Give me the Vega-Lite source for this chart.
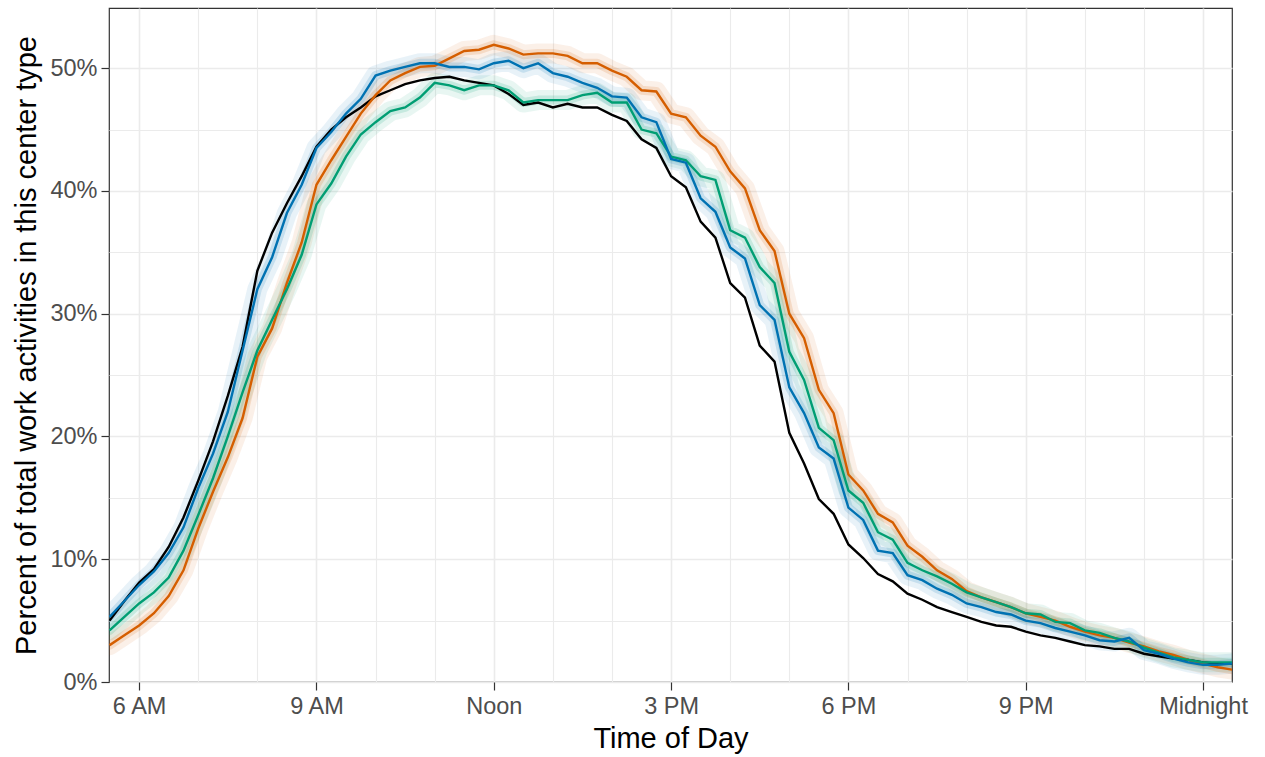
{
  "$schema": "https://vega.github.io/schema/vega-lite/v6.json",
  "width": 1123,
  "height": 674,
  "autosize": {"type": "none"},
  "padding": {"left": 109, "top": 8, "right": 33, "bottom": 75},
  "background": "#FFFFFF",
  "config": {
    "view": {"stroke": "#333333", "strokeWidth": 1.2},
    "font": "Liberation Sans"
  },
  "datasets": {
    "rows": [
{"t":5.5,"s":"k","v":5.0},{"t":5.75,"s":"k","v":6.6},{"t":6,"s":"k","v":8.1},{"t":6.25,"s":"k","v":9.2},{"t":6.5,"s":"k","v":11.0},{"t":6.75,"s":"k","v":13.4},{"t":7,"s":"k","v":16.4},{"t":7.25,"s":"k","v":19.6},{"t":7.5,"s":"k","v":23.3},{"t":7.75,"s":"k","v":27.3},{"t":8,"s":"k","v":33.5},{"t":8.25,"s":"k","v":36.6},{"t":8.5,"s":"k","v":39.0},{"t":8.75,"s":"k","v":41.2},{"t":9,"s":"k","v":43.6},{"t":9.25,"s":"k","v":45.0},{"t":9.5,"s":"k","v":46.0},{"t":9.75,"s":"k","v":46.8},{"t":10,"s":"k","v":47.7},{"t":10.25,"s":"k","v":48.2},{"t":10.5,"s":"k","v":48.7},{"t":10.75,"s":"k","v":49.0},{"t":11,"s":"k","v":49.2},{"t":11.25,"s":"k","v":49.3},{"t":11.5,"s":"k","v":49.0},{"t":11.75,"s":"k","v":48.8},{"t":12,"s":"k","v":48.6},{"t":12.25,"s":"k","v":47.9},{"t":12.5,"s":"k","v":47.0},{"t":12.75,"s":"k","v":47.2},{"t":13,"s":"k","v":46.8},{"t":13.25,"s":"k","v":47.1},{"t":13.5,"s":"k","v":46.8},{"t":13.75,"s":"k","v":46.8},{"t":14,"s":"k","v":46.2},{"t":14.25,"s":"k","v":45.7},{"t":14.5,"s":"k","v":44.2},{"t":14.75,"s":"k","v":43.5},{"t":15,"s":"k","v":41.2},{"t":15.25,"s":"k","v":40.3},{"t":15.5,"s":"k","v":37.5},{"t":15.75,"s":"k","v":36.2},{"t":16,"s":"k","v":32.5},{"t":16.25,"s":"k","v":31.3},{"t":16.5,"s":"k","v":27.4},{"t":16.75,"s":"k","v":26.1},{"t":17,"s":"k","v":20.3},{"t":17.25,"s":"k","v":17.8},{"t":17.5,"s":"k","v":14.9},{"t":17.75,"s":"k","v":13.7},{"t":18,"s":"k","v":11.2},{"t":18.25,"s":"k","v":10.1},{"t":18.5,"s":"k","v":8.8},{"t":18.75,"s":"k","v":8.2},{"t":19,"s":"k","v":7.2},{"t":19.25,"s":"k","v":6.7},{"t":19.5,"s":"k","v":6.1},{"t":19.75,"s":"k","v":5.7},{"t":20,"s":"k","v":5.3},{"t":20.25,"s":"k","v":4.9},{"t":20.5,"s":"k","v":4.6},{"t":20.75,"s":"k","v":4.5},{"t":21,"s":"k","v":4.1},{"t":21.25,"s":"k","v":3.8},{"t":21.5,"s":"k","v":3.6},{"t":21.75,"s":"k","v":3.3},{"t":22,"s":"k","v":3.0},{"t":22.25,"s":"k","v":2.9},{"t":22.5,"s":"k","v":2.7},{"t":22.75,"s":"k","v":2.7},{"t":23,"s":"k","v":2.3},{"t":23.25,"s":"k","v":2.1},{"t":23.5,"s":"k","v":1.9},{"t":23.75,"s":"k","v":1.8},{"t":24,"s":"k","v":1.6},{"t":24.25,"s":"k","v":1.5},{"t":24.5,"s":"k","v":1.5},
{"t":5.5,"s":"o","v":3.0},{"t":5.75,"s":"o","v":3.8},{"t":6,"s":"o","v":4.6},{"t":6.25,"s":"o","v":5.6},{"t":6.5,"s":"o","v":7.0},{"t":6.75,"s":"o","v":9.1},{"t":7,"s":"o","v":12.5},{"t":7.25,"s":"o","v":15.5},{"t":7.5,"s":"o","v":18.3},{"t":7.75,"s":"o","v":21.5},{"t":8,"s":"o","v":26.5},{"t":8.25,"s":"o","v":28.8},{"t":8.5,"s":"o","v":32.5},{"t":8.75,"s":"o","v":35.8},{"t":9,"s":"o","v":40.5},{"t":9.25,"s":"o","v":42.5},{"t":9.5,"s":"o","v":44.4},{"t":9.75,"s":"o","v":46.3},{"t":10,"s":"o","v":47.8},{"t":10.25,"s":"o","v":49.0},{"t":10.5,"s":"o","v":49.6},{"t":10.75,"s":"o","v":50.1},{"t":11,"s":"o","v":50.2},{"t":11.25,"s":"o","v":50.8},{"t":11.5,"s":"o","v":51.4},{"t":11.75,"s":"o","v":51.5},{"t":12,"s":"o","v":51.9},{"t":12.25,"s":"o","v":51.6},{"t":12.5,"s":"o","v":51.1},{"t":12.75,"s":"o","v":51.2},{"t":13,"s":"o","v":51.2},{"t":13.25,"s":"o","v":51.0},{"t":13.5,"s":"o","v":50.4},{"t":13.75,"s":"o","v":50.4},{"t":14,"s":"o","v":49.8},{"t":14.25,"s":"o","v":49.3},{"t":14.5,"s":"o","v":48.2},{"t":14.75,"s":"o","v":48.1},{"t":15,"s":"o","v":46.3},{"t":15.25,"s":"o","v":46.0},{"t":15.5,"s":"o","v":44.5},{"t":15.75,"s":"o","v":43.6},{"t":16,"s":"o","v":41.6},{"t":16.25,"s":"o","v":40.2},{"t":16.5,"s":"o","v":36.8},{"t":16.75,"s":"o","v":35.1},{"t":17,"s":"o","v":30.0},{"t":17.25,"s":"o","v":28.0},{"t":17.5,"s":"o","v":23.8},{"t":17.75,"s":"o","v":21.9},{"t":18,"s":"o","v":16.9},{"t":18.25,"s":"o","v":15.6},{"t":18.5,"s":"o","v":13.7},{"t":18.75,"s":"o","v":13.0},{"t":19,"s":"o","v":11.1},{"t":19.25,"s":"o","v":10.2},{"t":19.5,"s":"o","v":9.1},{"t":19.75,"s":"o","v":8.4},{"t":20,"s":"o","v":7.4},{"t":20.25,"s":"o","v":6.9},{"t":20.5,"s":"o","v":6.5},{"t":20.75,"s":"o","v":6.1},{"t":21,"s":"o","v":5.6},{"t":21.25,"s":"o","v":5.3},{"t":21.5,"s":"o","v":5.0},{"t":21.75,"s":"o","v":4.5},{"t":22,"s":"o","v":4.1},{"t":22.25,"s":"o","v":3.8},{"t":22.5,"s":"o","v":3.6},{"t":22.75,"s":"o","v":3.2},{"t":23,"s":"o","v":2.9},{"t":23.25,"s":"o","v":2.5},{"t":23.5,"s":"o","v":2.2},{"t":23.75,"s":"o","v":1.8},{"t":24,"s":"o","v":1.5},{"t":24.25,"s":"o","v":1.2},{"t":24.5,"s":"o","v":1.0},
{"t":5.5,"s":"g","v":4.2},{"t":5.75,"s":"g","v":5.3},{"t":6,"s":"g","v":6.4},{"t":6.25,"s":"g","v":7.3},{"t":6.5,"s":"g","v":8.5},{"t":6.75,"s":"g","v":10.7},{"t":7,"s":"g","v":13.6},{"t":7.25,"s":"g","v":16.6},{"t":7.5,"s":"g","v":20.0},{"t":7.75,"s":"g","v":23.6},{"t":8,"s":"g","v":27.0},{"t":8.25,"s":"g","v":29.5},{"t":8.5,"s":"g","v":32.0},{"t":8.75,"s":"g","v":34.8},{"t":9,"s":"g","v":38.9},{"t":9.25,"s":"g","v":40.6},{"t":9.5,"s":"g","v":42.8},{"t":9.75,"s":"g","v":44.6},{"t":10,"s":"g","v":45.6},{"t":10.25,"s":"g","v":46.5},{"t":10.5,"s":"g","v":46.8},{"t":10.75,"s":"g","v":47.6},{"t":11,"s":"g","v":48.8},{"t":11.25,"s":"g","v":48.6},{"t":11.5,"s":"g","v":48.2},{"t":11.75,"s":"g","v":48.6},{"t":12,"s":"g","v":48.6},{"t":12.25,"s":"g","v":48.2},{"t":12.5,"s":"g","v":47.2},{"t":12.75,"s":"g","v":47.4},{"t":13,"s":"g","v":47.4},{"t":13.25,"s":"g","v":47.4},{"t":13.5,"s":"g","v":47.8},{"t":13.75,"s":"g","v":48.0},{"t":14,"s":"g","v":47.2},{"t":14.25,"s":"g","v":47.2},{"t":14.5,"s":"g","v":45.0},{"t":14.75,"s":"g","v":44.7},{"t":15,"s":"g","v":42.8},{"t":15.25,"s":"g","v":42.5},{"t":15.5,"s":"g","v":41.2},{"t":15.75,"s":"g","v":40.9},{"t":16,"s":"g","v":36.8},{"t":16.25,"s":"g","v":36.2},{"t":16.5,"s":"g","v":33.8},{"t":16.75,"s":"g","v":32.5},{"t":17,"s":"g","v":26.9},{"t":17.25,"s":"g","v":24.6},{"t":17.5,"s":"g","v":20.7},{"t":17.75,"s":"g","v":19.7},{"t":18,"s":"g","v":15.6},{"t":18.25,"s":"g","v":14.6},{"t":18.5,"s":"g","v":12.2},{"t":18.75,"s":"g","v":11.6},{"t":19,"s":"g","v":9.7},{"t":19.25,"s":"g","v":9.1},{"t":19.5,"s":"g","v":8.6},{"t":19.75,"s":"g","v":8.0},{"t":20,"s":"g","v":7.3},{"t":20.25,"s":"g","v":6.9},{"t":20.5,"s":"g","v":6.5},{"t":20.75,"s":"g","v":6.1},{"t":21,"s":"g","v":5.6},{"t":21.25,"s":"g","v":5.5},{"t":21.5,"s":"g","v":4.9},{"t":21.75,"s":"g","v":4.8},{"t":22,"s":"g","v":4.2},{"t":22.25,"s":"g","v":4.0},{"t":22.5,"s":"g","v":3.6},{"t":22.75,"s":"g","v":3.3},{"t":23,"s":"g","v":2.8},{"t":23.25,"s":"g","v":2.4},{"t":23.5,"s":"g","v":2.0},{"t":23.75,"s":"g","v":1.8},{"t":24,"s":"g","v":1.6},{"t":24.25,"s":"g","v":1.6},{"t":24.5,"s":"g","v":1.6},
{"t":5.5,"s":"b","v":5.3},{"t":5.75,"s":"b","v":6.6},{"t":6,"s":"b","v":7.9},{"t":6.25,"s":"b","v":9.0},{"t":6.5,"s":"b","v":10.5},{"t":6.75,"s":"b","v":12.6},{"t":7,"s":"b","v":15.8},{"t":7.25,"s":"b","v":18.6},{"t":7.5,"s":"b","v":22.0},{"t":7.75,"s":"b","v":27.0},{"t":8,"s":"b","v":32.0},{"t":8.25,"s":"b","v":34.6},{"t":8.5,"s":"b","v":38.2},{"t":8.75,"s":"b","v":40.5},{"t":9,"s":"b","v":43.5},{"t":9.25,"s":"b","v":44.8},{"t":9.5,"s":"b","v":46.3},{"t":9.75,"s":"b","v":47.5},{"t":10,"s":"b","v":49.4},{"t":10.25,"s":"b","v":49.8},{"t":10.5,"s":"b","v":50.1},{"t":10.75,"s":"b","v":50.4},{"t":11,"s":"b","v":50.4},{"t":11.25,"s":"b","v":50.1},{"t":11.5,"s":"b","v":50.1},{"t":11.75,"s":"b","v":49.9},{"t":12,"s":"b","v":50.4},{"t":12.25,"s":"b","v":50.6},{"t":12.5,"s":"b","v":50.0},{"t":12.75,"s":"b","v":50.4},{"t":13,"s":"b","v":49.6},{"t":13.25,"s":"b","v":49.3},{"t":13.5,"s":"b","v":48.8},{"t":13.75,"s":"b","v":48.4},{"t":14,"s":"b","v":47.7},{"t":14.25,"s":"b","v":47.6},{"t":14.5,"s":"b","v":46.0},{"t":14.75,"s":"b","v":45.6},{"t":15,"s":"b","v":42.6},{"t":15.25,"s":"b","v":42.3},{"t":15.5,"s":"b","v":39.4},{"t":15.75,"s":"b","v":38.3},{"t":16,"s":"b","v":35.4},{"t":16.25,"s":"b","v":34.5},{"t":16.5,"s":"b","v":30.7},{"t":16.75,"s":"b","v":29.5},{"t":17,"s":"b","v":24.0},{"t":17.25,"s":"b","v":21.9},{"t":17.5,"s":"b","v":19.1},{"t":17.75,"s":"b","v":18.2},{"t":18,"s":"b","v":14.2},{"t":18.25,"s":"b","v":13.2},{"t":18.5,"s":"b","v":10.7},{"t":18.75,"s":"b","v":10.5},{"t":19,"s":"b","v":8.7},{"t":19.25,"s":"b","v":8.3},{"t":19.5,"s":"b","v":7.6},{"t":19.75,"s":"b","v":7.1},{"t":20,"s":"b","v":6.4},{"t":20.25,"s":"b","v":6.1},{"t":20.5,"s":"b","v":5.7},{"t":20.75,"s":"b","v":5.5},{"t":21,"s":"b","v":5.0},{"t":21.25,"s":"b","v":4.8},{"t":21.5,"s":"b","v":4.4},{"t":21.75,"s":"b","v":4.1},{"t":22,"s":"b","v":3.8},{"t":22.25,"s":"b","v":3.4},{"t":22.5,"s":"b","v":3.3},{"t":22.75,"s":"b","v":3.6},{"t":23,"s":"b","v":2.6},{"t":23.25,"s":"b","v":2.3},{"t":23.5,"s":"b","v":1.9},{"t":23.75,"s":"b","v":1.6},{"t":24,"s":"b","v":1.4},{"t":24.25,"s":"b","v":1.4},{"t":24.5,"s":"b","v":1.5}
    ]
  },
  "data": {"name": "rows"},
  "encoding": {
    "x": {
      "field": "t",
      "type": "quantitative",
      "scale": {"domain": [5.49, 24.49], "nice": false, "zero": false},
      "axis": {
        "title": "Time of Day",
        "values": [6,7,8,9,10,11,12,13,14,15,16,17,18,19,20,21,22,23,24],
        "labelExpr": "datum.value == 6 ? '6 AM' : datum.value == 9 ? '9 AM' : datum.value == 12 ? 'Noon' : datum.value == 15 ? '3 PM' : datum.value == 18 ? '6 PM' : datum.value == 21 ? '9 PM' : datum.value == 24 ? 'Midnight' : ''",
        "domain": false,
        "grid": true,
        "gridColor": "#EBEBEB",
        "gridWidth": {"condition": {"test": "datum.value % 3 == 0", "value": 1.6}, "value": 1.1},
        "tickColor": "#333333",
        "tickWidth": 1.2,
        "tickSize": 8,
        "tickOpacity": {"condition": {"test": "datum.value % 3 == 0", "value": 1}, "value": 0},
        "labelFont": "Liberation Sans",
        "labelFontSize": 23.5,
        "labelColor": "#4D4D4D",
        "labelBaseline": "alphabetic",
        "labelPadding": 23,
        "labelFlush": false,
        "labelOverlap": false,
        "titleFont": "Liberation Sans",
        "titleFontSize": 29,
        "titleFontWeight": "normal",
        "titleColor": "#000000",
        "titleBaseline": "alphabetic",
        "titleY": 65
      }
    },
    "y": {
      "field": "v",
      "type": "quantitative",
      "scale": {"domain": [0, 54.9], "nice": false},
      "axis": {
        "title": "Percent of total work activities in this center type",
        "values": [0,5,10,15,20,25,30,35,40,45,50],
        "labelExpr": "datum.value % 10 == 0 ? datum.value + '%' : ''",
        "domain": false,
        "grid": true,
        "gridColor": "#EBEBEB",
        "gridWidth": {"condition": {"test": "datum.value % 10 == 0", "value": 1.6}, "value": 1.1},
        "tickColor": "#333333",
        "tickWidth": 1.2,
        "tickSize": 8,
        "tickOpacity": {"condition": {"test": "datum.value % 10 == 0", "value": 1}, "value": 0},
        "labelFont": "Liberation Sans",
        "labelFontSize": 23.5,
        "labelColor": "#4D4D4D",
        "labelPadding": 4,
        "labelFlush": false,
        "labelOverlap": false,
        "titleFont": "Liberation Sans",
        "titleFontSize": 29,
        "titleFontWeight": "normal",
        "titleColor": "#000000",
        "titleBaseline": "alphabetic",
        "titleX": -74
      }
    },
    "color": {
      "field": "s",
      "type": "nominal",
      "scale": {"domain": ["k", "o", "g", "b"], "range": ["#000000", "#D55E00", "#009E73", "#0072B2"]},
      "legend": null
    }
  },
  "layer": [
    {
      "transform": [{"filter": "datum.s !== 'k'"}],
      "mark": {"type": "line", "strokeWidth": 20, "opacity": 0.09, "strokeJoin": "round", "strokeCap": "round", "clip": true}
    },
    {
      "transform": [{"filter": "datum.s !== 'k'"}],
      "mark": {"type": "line", "strokeWidth": 9, "opacity": 0.15, "strokeJoin": "round", "strokeCap": "round", "clip": true}
    },
    {
      "mark": {"type": "line", "strokeWidth": 2.4, "clip": true}
    }
  ]
}
